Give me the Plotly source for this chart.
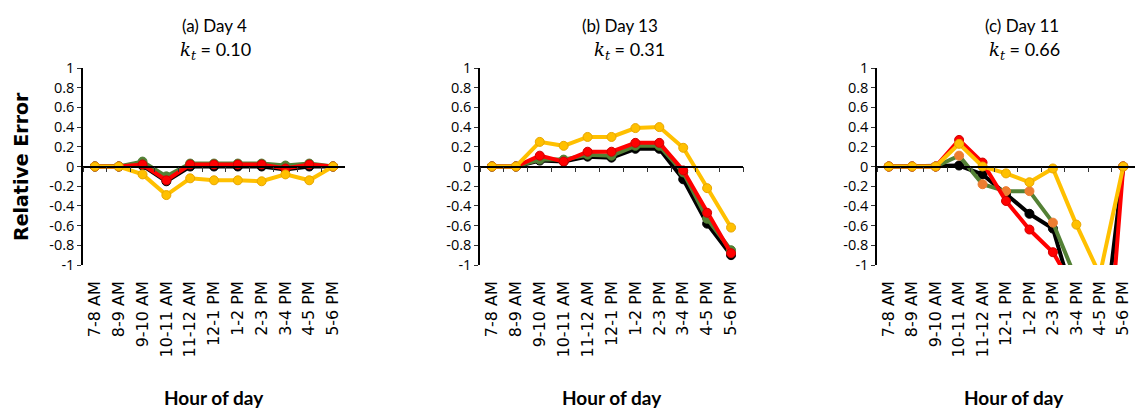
import plotly.graph_objects as go

categories = ["7-8 AM", "8-9 AM", "9-10 AM", "10-11 AM", "11-12 AM", "12-1 PM",
              "1-2 PM", "2-3 PM", "3-4 PM", "4-5 PM", "5-6 PM"]

# Panel (a) Day 4
black_a = [0, 0, 0.01, -0.15, 0, 0, 0, 0, -0.03, 0, 0]
green_a = [0, 0, 0.05, -0.10, 0.03, 0.03, 0.03, 0.03, 0.01, 0.03, 0]
red_a = [0, 0, 0.02, -0.14, 0.02, 0.02, 0.02, 0.02, -0.02, 0.02, 0]
yellow_a = [0, 0, -0.08, -0.29, -0.12, -0.14, -0.14, -0.15, -0.08, -0.14, 0]

# Panel (b) Day 13
black_b = [0, 0, 0.06, 0.05, 0.10, 0.09, 0.18, 0.18, -0.13, -0.58, -0.90]
green_b = [0, 0, 0.07, 0.07, 0.12, 0.11, 0.21, 0.21, -0.06, -0.53, -0.85]
red_b = [0, 0, 0.11, 0.05, 0.15, 0.15, 0.24, 0.24, -0.04, -0.47, -0.88]
yellow_b = [0, 0, 0.25, 0.21, 0.30, 0.30, 0.39, 0.40, 0.19, -0.22, -0.62]

# Panel (c) Day 11
black_c = [0, 0, 0, 0.01, -0.08, -0.28, -0.48, -0.63, -1.44, -2.0, 0]
green_c = [0, 0, 0, 0.11, -0.18, -0.25, -0.25, -0.57, -1.15, None, 0]
red_c = [0, 0, 0, 0.27, 0.04, -0.35, -0.64, -0.87, -1.28, -3.0, 0]
yellow_c = [0, 0, 0, 0.23, 0.0, -0.07, -0.16, -0.02, -0.59, -1.1, 0]

titles = ["(a) Day 4", "(b) Day 13", "(c) Day 11"]
kt_values = ["0.10", "0.31", "0.66"]
ytick_vals = [1, 0.8, 0.6, 0.4, 0.2, 0, -0.2, -0.4, -0.6, -0.8, -1]
ytick_text = ["1", "0.8", "0.6", "0.4", "0.2", "0", "-0.2", "-0.4", "-0.6", "-0.8", "-1"]

W, H = 1135, 411
BLACK = "#000000"
GREEN = "#538135"
RED = "#FF0000"
YELLOW = "#FFC000"
ORANGE = "#ED7D31"

panels = [
    dict(series=[black_a, green_a, red_a, yellow_a], green_marker=GREEN, x0=83, x1=345,
         tcx=214, kcx=215),
    dict(series=[black_b, green_b, red_b, yellow_b], green_marker=GREEN, x0=480, x1=743,
         tcx=620, kcx=629),
    dict(series=[black_c, green_c, red_c, yellow_c], green_marker=ORANGE, x0=877, x1=1135,
         tcx=1022, kcx=1024),
]

y_top_px, y_bot_px = 68, 265
ydom = [(H - y_bot_px) / H, (H - y_top_px) / H]
ymid = (ydom[0] + ydom[1]) / 2

fig = go.Figure()
layout = dict(
    width=W, height=H,
    margin=dict(l=0, r=0, t=0, b=0),
    paper_bgcolor="white", plot_bgcolor="white",
    showlegend=False,
    annotations=[],
)

for i, p in enumerate(panels):
    n = i + 1
    xa = "x" if n == 1 else f"x{n}"
    ya = "y" if n == 1 else f"y{n}"
    xo = f"x{n + 3}"
    cols = [BLACK, GREEN, RED, YELLOW]
    mcols = [BLACK, p["green_marker"], RED, YELLOW]
    mlines = [BLACK, p["green_marker"], "#D00000", "#E8A600"]
    for s, c, mc, ml in zip(p["series"], cols, mcols, mlines):
        fig.add_trace(go.Scatter(
            x=categories, y=s, xaxis=xa, yaxis=ya, mode="lines+markers",
            line=dict(color=c, width=4),
            marker=dict(color=mc, size=9, line=dict(color=ml, width=1)),
            connectgaps=False, hoverinfo="skip",
        ))
    # dummy trace for the zero-line axis with ticks at category boundaries
    fig.add_trace(go.Scatter(
        x=categories, y=[None] * len(categories), xaxis=xo, yaxis=ya,
        mode="markers", hoverinfo="skip", showlegend=False,
    ))
    dom = [p["x0"] / W, min(p["x1"] / W, 1.0)]
    layout["xaxis" if n == 1 else f"xaxis{n}"] = dict(
        domain=dom, anchor=ya, type="category", categoryorder="array",
        categoryarray=categories, range=[-0.5, 10.5],
        showline=False, showgrid=False, zeroline=False, ticks="",
        tickangle=-90, ticklabelstandoff=12,
        tickfont=dict(family="DejaVu Sans", size=16, color="black"),
        automargin=False,
    )
    layout[f"xaxis{n + 3}"] = dict(
        overlaying=xa, anchor="free", position=ymid, type="category",
        categoryorder="array", categoryarray=categories, range=[-0.5, 10.5],
        showline=True, linecolor="black", linewidth=1.5,
        ticks="outside", tickson="boundaries", ticklen=5, tickwidth=1.3,
        tickcolor="#333333", showticklabels=False, showgrid=False, zeroline=False,
    )
    layout["yaxis" if n == 1 else f"yaxis{n}"] = dict(
        domain=ydom, anchor=xa, range=[-1, 1],
        tickvals=ytick_vals, ticktext=ytick_text,
        showline=True, linecolor="black", linewidth=1.5,
        ticks="outside", ticklen=4, tickwidth=1.3, tickcolor="#333333",
        showgrid=False, zeroline=False,
        tickfont=dict(family="Open Sans", size=14.5, color="black"),
        automargin=False,
    )
    layout["annotations"].append(dict(
        text=titles[i], x=p["tcx"] / W, y=(H - 25) / H, xref="paper", yref="paper",
        xanchor="center", yanchor="middle", showarrow=False,
        font=dict(family="Lato", size=17, color="black"),
    ))
    layout["annotations"].append(dict(
        text=("<span style='font-family:DejaVu Serif'><i>k</i><sub><i>t</i></sub></span>"
              f" = {kt_values[i]}"),
        x=p["kcx"] / W, y=(H - 51) / H, xref="paper", yref="paper",
        xanchor="center", yanchor="middle", showarrow=False,
        font=dict(family="Lato", size=18, color="black"),
    ))
    layout["annotations"].append(dict(
        text="<b>Hour of day</b>", x=((p["x0"] + p["x1"]) / 2 + (8 if n == 3 else 0)) / W,
        y=(H - 397) / H, xref="paper", yref="paper",
        xanchor="center", yanchor="middle", showarrow=False,
        font=dict(family="Lato", size=19, color="black"),
    ))

layout["annotations"].append(dict(
    text="<b>Relative Error</b>", x=21 / W, y=(H - 167) / H, xref="paper", yref="paper",
    xanchor="center", yanchor="middle", textangle=-90, showarrow=False,
    font=dict(family="DejaVu Sans", size=19, color="black"),
))

fig.update_layout(**layout)
fig.write_html("out.html")
